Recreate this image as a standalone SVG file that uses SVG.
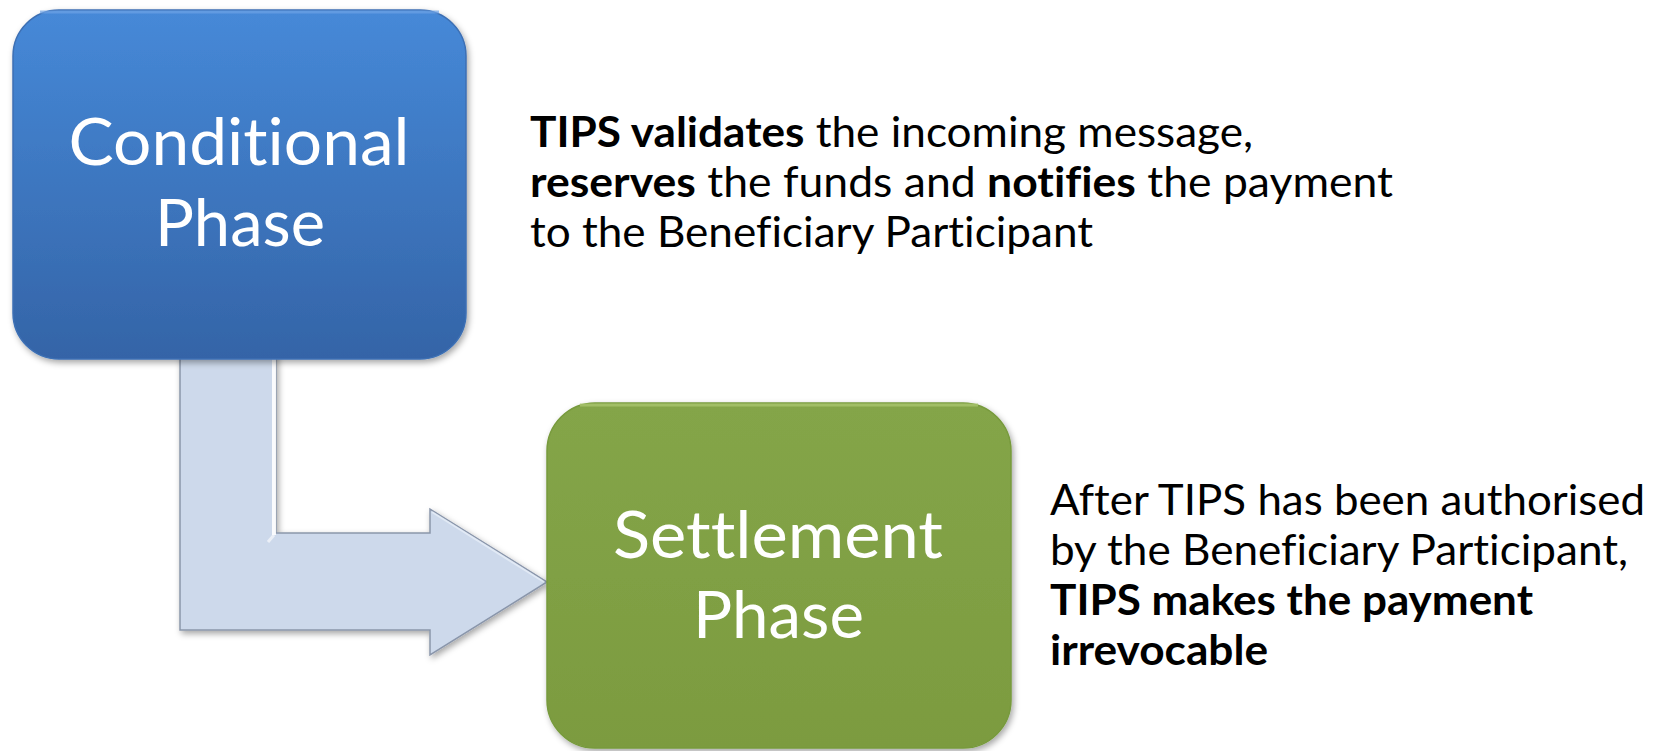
<svg xmlns="http://www.w3.org/2000/svg" width="1662" height="751" viewBox="0 0 1662 751">
  <defs>
    <linearGradient id="gBlue" x1="0" y1="0" x2="0" y2="1">
      <stop offset="0" stop-color="#4689d8"/>
      <stop offset="1" stop-color="#3464a7"/>
    </linearGradient>
    <linearGradient id="gGreen" x1="0" y1="0" x2="0" y2="1">
      <stop offset="0" stop-color="#84a548"/>
      <stop offset="1" stop-color="#7c9b40"/>
    </linearGradient>
    <filter id="shadow" x="-10%" y="-10%" width="125%" height="125%">
      <feDropShadow dx="2" dy="3" stdDeviation="3" flood-color="#000" flood-opacity="0.35"/>
    </filter>
  </defs>
  <style>
    text { font-variant-ligatures: none; font-feature-settings: "liga" 0, "clig" 0; }
    .box-text { font-family: Lato, "Open Sans", sans-serif; font-size: 66px; fill: #ffffff; text-anchor: middle; }
    .note { font-family: Lato, "Open Sans", sans-serif; font-size: 42px; fill: #000000; }
    .b { font-weight: bold; }
    .arrow { fill: #cdd9eb; stroke: #8a96ab; stroke-width: 1.5; stroke-linejoin: miter; }
  </style>
  <rect width="1662" height="751" fill="#ffffff"/>

  <g id="connectors">
    <g id="arrow-conditional-to-settlement" filter="url(#shadow)">
      <polygon class="arrow" points="180,352 276,352 276,533 430,533 430,509 547,582 430,655 430,630 180,630"/>
      <line x1="274" y1="352" x2="274" y2="535" stroke="#ffffff" stroke-width="4" opacity="0.9"/>
      <line x1="274" y1="535" x2="268" y2="542" stroke="#ffffff" stroke-width="3" opacity="0.6"/>
      <line x1="432" y1="512" x2="544" y2="582" stroke="#e6eef8" stroke-width="2" opacity="0.8"/>
    </g>
  </g>

  <g id="node-conditional">
    <rect x="13" y="10" width="453" height="349" rx="46" ry="46" fill="url(#gBlue)" stroke="#3c6fb4" stroke-width="1.5" filter="url(#shadow)"/>
    <path d="M 40 12 L 439 12" stroke="#6ea3e6" stroke-width="3" opacity="0.7" fill="none"/>
    <text class="box-text" x="239" y="165" textLength="341" lengthAdjust="spacingAndGlyphs">Conditional</text>
    <text class="box-text" x="240" y="246" textLength="170" lengthAdjust="spacingAndGlyphs">Phase</text>
  </g>

  <g id="node-settlement">
    <rect x="547" y="403" width="464" height="345" rx="48" ry="48" fill="url(#gGreen)" stroke="#779a3c" stroke-width="1.5" filter="url(#shadow)"/>
    <path d="M 580 405 L 978 405" stroke="#a9c46e" stroke-width="3" opacity="0.8" fill="none"/>
    <text class="box-text" x="778" y="558" textLength="330" lengthAdjust="spacingAndGlyphs">Settlement</text>
    <text class="box-text" x="778.5" y="638" textLength="171" lengthAdjust="spacingAndGlyphs">Phase</text>
  </g>

  <g id="note-conditional">
    <text class="note" x="530" y="147" textLength="723" lengthAdjust="spacingAndGlyphs"><tspan class="b">TIPS validates</tspan> the incoming message,</text>
    <text class="note" x="530" y="197" textLength="863" lengthAdjust="spacingAndGlyphs"><tspan class="b">reserves</tspan> the funds and <tspan class="b">notifies</tspan> the payment</text>
    <text class="note" x="530" y="247" textLength="563" lengthAdjust="spacingAndGlyphs">to the Beneficiary Participant</text>
  </g>

  <g id="note-settlement">
    <text class="note" x="1050" y="515" textLength="595" lengthAdjust="spacingAndGlyphs">After TIPS has been authorised</text>
    <text class="note" x="1050" y="565" textLength="578" lengthAdjust="spacingAndGlyphs">by the Beneficiary Participant,</text>
    <text class="note b" x="1050" y="615" textLength="483" lengthAdjust="spacingAndGlyphs">TIPS makes the payment</text>
    <text class="note b" x="1050" y="665" textLength="218" lengthAdjust="spacingAndGlyphs">irrevocable</text>
  </g>
</svg>
